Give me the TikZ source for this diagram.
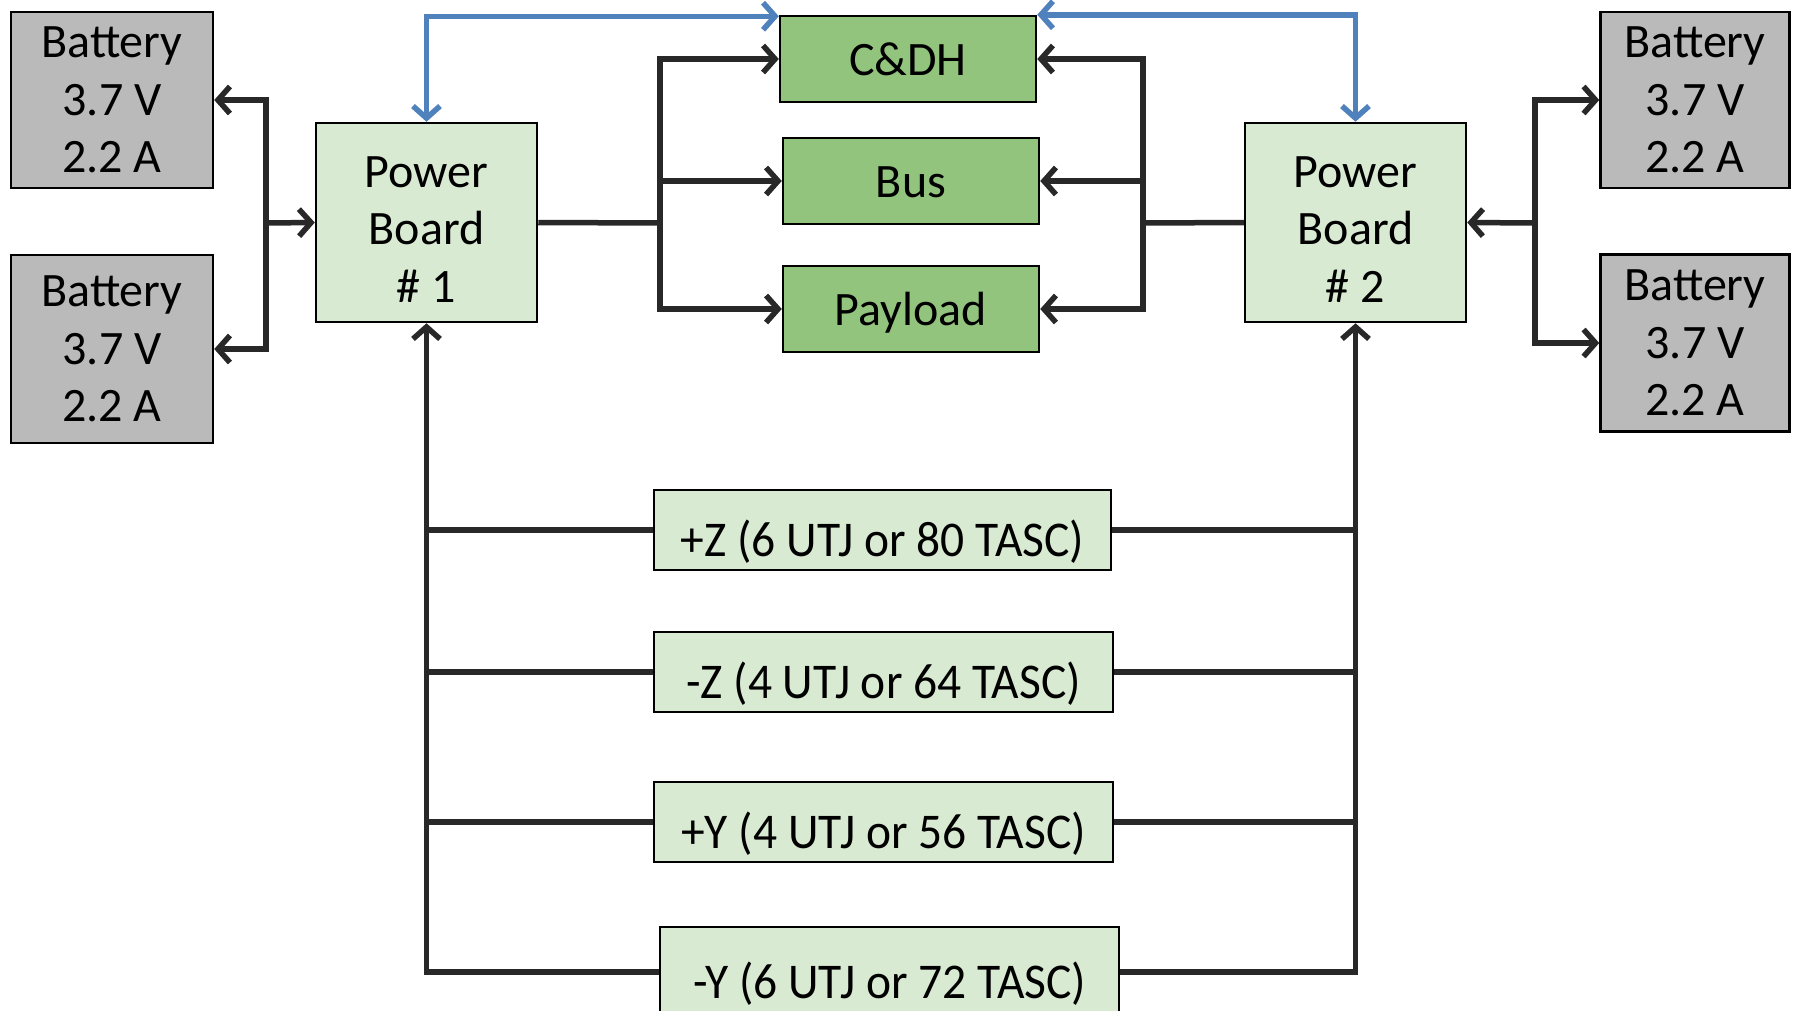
\documentclass[tikz,border=0pt]{standalone}
\usepackage{fontspec}
\setmainfont{Carlito}
\usetikzlibrary{arrows.meta}
\definecolor{batgray}{RGB}{186,186,186}
\definecolor{lightg}{RGB}{216,234,210}
\definecolor{darkg}{RGB}{147,196,125}
\definecolor{bluel}{RGB}{79,129,189}
\definecolor{linec}{RGB}{40,40,40}
\tikzset{
  blk/.style={draw=black, line width=2.5pt, inner sep=0pt, align=center,
    font=\fontsize{48}{57.5}\selectfont},
  batbox/.style={blk, fill=batgray},
  pbbox/.style={blk, fill=lightg, minimum width=221pt, minimum height=199pt},
  pbtext/.style={inner sep=0pt, align=center, font=\fontsize{48}{57.5}\selectfont},
  subbox/.style={blk, fill=darkg, minimum width=256pt, minimum height=86pt,
    text height=34pt, text depth=2pt},
  panelbox/.style={blk, fill=lightg, minimum width=459pt, minimum height=80pt,
    font=\fontsize{50}{60}\selectfont, text height=53pt, text depth=0pt},
  conn/.style={draw=linec, line width=5.5pt},
  bconn/.style={draw=bluel, line width=5.5pt},
  tip/.style={-{Straight Barb[length=12pt,width=27pt]}},
  tips/.style={{Straight Barb[length=12pt,width=27pt]}-{Straight Barb[length=12pt,width=27pt]}}
}
\newcommand{\pnl}[1]{\scalebox{0.95}[1]{#1}}
\begin{document}
\begin{tikzpicture}[x=1pt,y=-1pt]
\clip (0,0) rectangle (1797,1010);
\fill[white] (0,0) rectangle (1797,1010);
% batteries
\node[batbox, minimum width=202pt, minimum height=176pt] (bl1) at (112,100) {Battery\\3.7 V\\2.2 A};
\node[batbox, minimum width=202pt, minimum height=188pt] (bl2) at (112,349) {Battery\\3.7 V\\2.2 A};
\node[batbox, minimum width=189pt, minimum height=176pt] (br1) at (1695,100) {Battery\\3.7 V\\2.2 A};
\node[batbox, minimum width=189pt, minimum height=177pt] (br2) at (1695,343) {Battery\\3.7 V\\2.2 A};
% power boards
\node[pbbox] (pb1) at (426.5,222.5) {};
\node[pbtext] (pb1t) at ([yshift=-7pt]pb1.center) {Power\\Board\\\# 1};
\node[pbbox] (pb2) at (1355.5,222.5) {};
\node[pbtext] (pb2t) at ([yshift=-7pt]pb2.center) {Power\\Board\\\# 2};
% subsystems
\node[subbox] (cdh) at (908,59) {C\&DH};
\node[subbox] (bus) at (911,181) {Bus};
\node[subbox] (pay) at (911,309) {Payload};
% panels
\node[panelbox, minimum width=457pt] (pz) at (882.5,530) {\pnl{+Z (6 UTJ or 80 TASC)}};
\node[panelbox] (mz) at (883.5,672) {\pnl{-Z (4 UTJ or 64 TASC)}};
\node[panelbox] (py) at (883.5,822) {\pnl{+Y (4 UTJ or 56 TASC)}};
\node[panelbox, minimum height=90pt] (my) at (889.5,972) {\pnl{-Y (6 UTJ or 72 TASC)}};
% junctions
\coordinate (jl) at (266,223);
\coordinate (jr) at (1535,223);
\coordinate (jm1) at (660,223);
\coordinate (jm2) at (1143,223);
% battery connections
\draw[conn,tip] (jl) |- (bl1.east);
\draw[conn,tip] (jl) |- (bl2.east);
\draw[conn,tip] (jl) -- (pb1.west);
\draw[conn,tip] (jr) |- (br1.west);
\draw[conn,tip] (jr) |- (br2.west);
\draw[conn,tip] (jr) -- (pb2.east);
% subsystem connections
\draw[conn] (pb1.east) -- (jm1);
\draw[conn,tip] (jm1) |- (cdh.west);
\draw[conn,tip] (jm1) |- (bus.west);
\draw[conn,tip] (jm1) |- (pay.west);
\draw[conn] (pb2.west) -- (jm2);
\draw[conn,tip] (jm2) |- (cdh.east);
\draw[conn,tip] (jm2) |- (bus.east);
\draw[conn,tip] (jm2) |- (pay.east);
% blue data links
\draw[bconn,tips] (pb1.north) |- ([yshift=-1.5pt]cdh.north west);
\draw[bconn,tips] (pb2.north) |- ([yshift=0pt]cdh.north east);
% solar panels
\draw[conn,tip] (my.west) -| (pb1.south);
\draw[conn,tip] (my.east) -| (pb2.south);
\draw[conn] (pz.west) -- (pz.west -| pb1.south);
\draw[conn] (mz.west) -- (mz.west -| pb1.south);
\draw[conn] (py.west) -- (py.west -| pb1.south);
\draw[conn] (pz.east) -- (pz.east -| pb2.south);
\draw[conn] (mz.east) -- (mz.east -| pb2.south);
\draw[conn] (py.east) -- (py.east -| pb2.south);
\end{tikzpicture}
\end{document}
